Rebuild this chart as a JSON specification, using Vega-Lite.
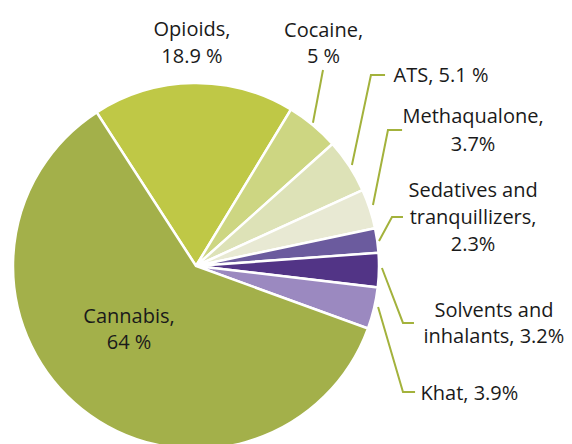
{
  "$schema": "https://vega.github.io/schema/vega-lite/v6.json",
  "width": 392,
  "height": 356,
  "autosize": "none",
  "padding": {"left": 0, "top": 88, "right": 180, "bottom": 0},
  "background": "white",
  "config": {"view": {"stroke": null}},
  "datasets": {
    "slices": [
      {"idx": 1, "drug": "Opioids", "pct": 18.9},
      {"idx": 2, "drug": "Cocaine", "pct": 5},
      {"idx": 3, "drug": "ATS", "pct": 5.1},
      {"idx": 4, "drug": "Methaqualone", "pct": 3.7},
      {"idx": 5, "drug": "Sedatives and tranquillizers", "pct": 2.3},
      {"idx": 6, "drug": "Solvents and inhalants", "pct": 3.2},
      {"idx": 7, "drug": "Khat", "pct": 3.9},
      {"idx": 8, "drug": "Cannabis", "pct": 64}
    ],
    "labels": [
      {"t": "Opioids,", "lx": -0.022, "ly": 1.257},
      {"t": "18.9 %", "lx": -0.022, "ly": 1.109},
      {"t": "Cocaine,", "lx": 0.697, "ly": 1.251},
      {"t": "5 %", "lx": 0.697, "ly": 1.109},
      {"t": "ATS, 5.1 %", "lx": 1.339, "ly": 1.005},
      {"t": "Methaqualone,", "lx": 1.514, "ly": 0.781},
      {"t": "3.7%", "lx": 1.514, "ly": 0.628},
      {"t": "Sedatives and", "lx": 1.514, "ly": 0.377},
      {"t": "tranquillizers,", "lx": 1.514, "ly": 0.230},
      {"t": "2.3%", "lx": 1.514, "ly": 0.082},
      {"t": "Solvents and", "lx": 1.628, "ly": -0.279},
      {"t": "inhalants, 3.2%", "lx": 1.628, "ly": -0.421},
      {"t": "Khat, 3.9%", "lx": 1.494, "ly": -0.732},
      {"t": "Cannabis,", "lx": -0.366, "ly": -0.311},
      {"t": "64 %", "lx": -0.366, "ly": -0.454}
    ],
    "leaders": [
      {"id": "Cocaine", "k": 1, "lx": 0.694, "ly": 1.071},
      {"id": "Cocaine", "k": 2, "lx": 0.639, "ly": 0.783},
      {"id": "ATS", "k": 1, "lx": 1.033, "ly": 1.044},
      {"id": "ATS", "k": 2, "lx": 0.956, "ly": 1.044},
      {"id": "ATS", "k": 3, "lx": 0.852, "ly": 0.552},
      {"id": "Methaqualone", "k": 1, "lx": 1.126, "ly": 0.743},
      {"id": "Methaqualone", "k": 2, "lx": 1.049, "ly": 0.743},
      {"id": "Methaqualone", "k": 3, "lx": 0.967, "ly": 0.333},
      {"id": "Sedatives", "k": 1, "lx": 1.131, "ly": 0.268},
      {"id": "Sedatives", "k": 2, "lx": 1.071, "ly": 0.268},
      {"id": "Sedatives", "k": 3, "lx": 1.0, "ly": 0.137},
      {"id": "Solvents", "k": 1, "lx": 1.016, "ly": -0.011},
      {"id": "Solvents", "k": 2, "lx": 1.131, "ly": -0.311},
      {"id": "Solvents", "k": 3, "lx": 1.191, "ly": -0.311},
      {"id": "Khat", "k": 1, "lx": 0.995, "ly": -0.224},
      {"id": "Khat", "k": 2, "lx": 1.131, "ly": -0.689},
      {"id": "Khat", "k": 3, "lx": 1.197, "ly": -0.689}
    ]
  },
  "layer": [
    {
      "data": {"name": "slices"},
      "mark": {"type": "arc", "outerRadius": 183, "stroke": "white", "strokeWidth": 2.5, "strokeJoin": "miter"},
      "encoding": {
        "theta": {"field": "pct", "type": "quantitative", "stack": true, "scale": {"range": [-0.574, 5.7092]}},
        "order": {"field": "idx", "type": "quantitative"},
        "color": {
          "field": "drug", "type": "nominal", "legend": null,
          "scale": {
            "domain": ["Opioids", "Cocaine", "ATS", "Methaqualone", "Sedatives and tranquillizers", "Solvents and inhalants", "Khat", "Cannabis"],
            "range": ["#bfc846", "#cdd682", "#dde2b7", "#e8e9d3", "#6b5b9e", "#523486", "#9b89c0", "#a3b04a"]
          }
        }
      }
    },
    {
      "data": {"name": "leaders"},
      "mark": {"type": "line", "color": "#a3b23c", "strokeWidth": 2, "strokeJoin": "miter"},
      "encoding": {
        "x": {"field": "lx", "type": "quantitative", "scale": {"domain": [-1.071, 1.071]}, "axis": null},
        "y": {"field": "ly", "type": "quantitative", "scale": {"domain": [-0.9727, 0.9727]}, "axis": null},
        "detail": {"field": "id"},
        "order": {"field": "k", "type": "quantitative"}
      }
    },
    {
      "data": {"name": "labels"},
      "mark": {"type": "text", "font": "Open Sans", "fontSize": 20, "color": "#1a1a1a", "baseline": "alphabetic", "align": "center"},
      "encoding": {
        "x": {"field": "lx", "type": "quantitative", "scale": {"domain": [-1.071, 1.071]}, "axis": null},
        "y": {"field": "ly", "type": "quantitative", "scale": {"domain": [-0.9727, 0.9727]}, "axis": null},
        "text": {"field": "t"}
      }
    }
  ]
}
